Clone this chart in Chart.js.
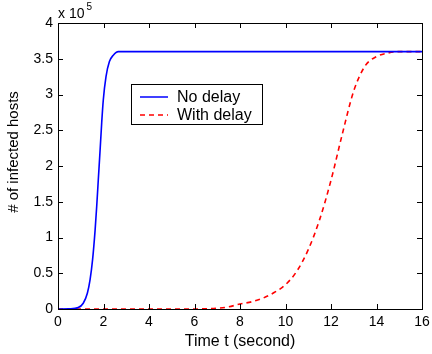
<!DOCTYPE html>
<html>
<head>
<meta charset="utf-8">
<script src="https://cdn.jsdelivr.net/npm/chart.js@4.4.1/dist/chart.umd.min.js"></script>
<style>
  html, body { margin: 0; padding: 0; background: #fff; }
  #wrap { width: 432px; height: 354px; position: relative; }
</style>
</head>
<body>
<div id="wrap"><canvas id="c" width="432" height="354"></canvas></div>
<script>
// ---- data ----
const noDelayTime = [0, 0.5, 0.89, 1.11, 1.29, 1.41, 1.52, 1.63, 1.70, 1.77, 1.85, 1.92, 1.99, 2.11, 2.26, 2.43, 2.65, 3.0, 4, 8, 12, 16];
const noDelayHosts = [0, 300, 2000, 8000, 22000, 41000, 69000, 110000, 143000, 180000, 222000, 260000, 292000, 325000, 346000, 355000, 360000, 360000, 360000, 360000, 360000, 360000];
const withDelayTime = [0, 1, 2, 3, 4, 5, 6, 6.5, 7, 7.5, 8, 8.5, 9, 9.5, 10, 10.5, 11, 11.5, 12, 12.5, 13, 13.5, 14, 14.5, 15, 15.5, 16];
const withDelayHosts = [0, 0, 0, 0, 0, 0, 0, 300, 1000, 3000, 7000, 10000, 15000, 23000, 34000, 53000, 83000, 125000, 180000, 245000, 305000, 340000, 353000, 358000, 360000, 360000, 360000];
const seriesNames = ['No delay', 'With delay'];
const xTitle = 'Time t (second)';
const yTitle = '# of infected hosts';
const xTicks = [0, 2, 4, 6, 8, 10, 12, 14, 16];
const yTicks = [0, 0.5, 1, 1.5, 2, 2.5, 3, 3.5, 4];
const yScaleFactor = 100000;

const FONT = '"Liberation Sans", Arial, Helvetica, sans-serif';

function toPoints(xs, ys) { return xs.map((x, i) => ({ x: x, y: ys[i] })); }

const framePlugin = {
  id: 'frame',
  afterDraw(chart) {
    const ctx = chart.ctx;
    const a = chart.chartArea;
    const xs = chart.scales.x, ys = chart.scales.y;
    ctx.save();
    ctx.strokeStyle = '#000';
    ctx.lineWidth = 1;
    // box
    ctx.strokeRect(Math.round(a.left) + 0.5, Math.round(a.top) + 0.5, Math.round(a.right - a.left), Math.round(a.bottom - a.top));
    // inward ticks
    const tl = 5;
    ctx.beginPath();
    xTicks.forEach(v => {
      const px = Math.round(xs.getPixelForValue(v)) + 0.5;
      ctx.moveTo(px, a.bottom); ctx.lineTo(px, a.bottom - tl);
      ctx.moveTo(px, a.top); ctx.lineTo(px, a.top + tl);
    });
    yTicks.forEach(v => {
      const py = Math.round(ys.getPixelForValue(v * yScaleFactor)) + 0.5;
      ctx.moveTo(a.left, py); ctx.lineTo(a.left + tl, py);
      ctx.moveTo(a.right, py); ctx.lineTo(a.right - tl, py);
    });
    ctx.stroke();

    // exponent label
    ctx.fillStyle = '#000';
    ctx.textBaseline = 'alphabetic';
    ctx.textAlign = 'left';
    ctx.font = '14px ' + FONT;
    ctx.fillText('x 10', a.left, a.top - 5);
    const w = ctx.measureText('x 10').width;
    ctx.font = '10px ' + FONT;
    ctx.fillText('5', a.left + w + 2, a.top - 13);

    // y title
    ctx.font = '15px ' + FONT;
    ctx.textAlign = 'center';
    ctx.textBaseline = 'middle';
    ctx.translate(14, 152);
    ctx.rotate(-Math.PI / 2);
    ctx.fillText(yTitle, 0, 0);
    ctx.restore();

    // legend
    ctx.save();
    const lx = a.left + 73, ly = a.top + 61, lw = 131, lh = 40;
    ctx.fillStyle = '#fff';
    ctx.fillRect(lx, ly, lw, lh);
    ctx.strokeStyle = '#000';
    ctx.lineWidth = 1;
    ctx.strokeRect(lx + 0.5, ly + 0.5, lw, lh);
    const ds = chart.data.datasets;
    const rows = [ly + 13, ly + 31];
    ds.forEach((d, i) => {
      ctx.strokeStyle = d.borderColor;
      ctx.lineWidth = 1.5;
      ctx.setLineDash(d.borderDash || []);
      ctx.beginPath();
      ctx.moveTo(lx + 9, rows[i]);
      ctx.lineTo(lx + 37, rows[i]);
      ctx.stroke();
      ctx.setLineDash([]);
      ctx.fillStyle = '#000';
      ctx.font = '16px ' + FONT;
      ctx.textAlign = 'left';
      ctx.textBaseline = 'middle';
      ctx.fillText(d.label, lx + 46, rows[i] + 1);
    });
    ctx.restore();
  }
};

new Chart(document.getElementById('c'), {
  type: 'scatter',
  data: {
    datasets: [
      {
        label: seriesNames[0],
        data: toPoints(noDelayTime, noDelayHosts),
        showLine: true,
        borderColor: '#0000ff',
        backgroundColor: '#0000ff',
        borderWidth: 1.6,
        pointRadius: 0,
        cubicInterpolationMode: 'monotone',
        fill: false
      },
      {
        label: seriesNames[1],
        data: toPoints(withDelayTime, withDelayHosts),
        showLine: true,
        borderColor: '#ff0000',
        backgroundColor: '#ff0000',
        borderWidth: 1.6,
        borderDash: [5, 4],
        pointRadius: 0,
        cubicInterpolationMode: 'monotone',
        fill: false
      }
    ]
  },
  options: {
    responsive: false,
    animation: false,
    devicePixelRatio: 1,
    layout: { padding: { left: 0, right: 10, top: 23, bottom: 0 } },
    plugins: { legend: { display: false }, tooltip: { enabled: false } },
    scales: {
      x: {
        type: 'linear',
        min: 0, max: 16,
        afterBuildTicks: s => { s.ticks = xTicks.map(v => ({ value: v })); },
        afterFit: s => { s.height = 45; s.paddingLeft = 0; s.paddingRight = 0; },
        grid: { display: false, drawTicks: false },
        border: { display: false },
        ticks: { color: '#000', font: { family: FONT, size: 14 }, padding: 5, maxRotation: 0, autoSkip: false },
        title: { display: true, text: xTitle, color: '#000', font: { family: FONT, size: 16 }, padding: { top: 0, bottom: 3 } }
      },
      y: {
        type: 'linear',
        min: 0, max: 400000,
        afterBuildTicks: s => { s.ticks = yTicks.map(v => ({ value: v * yScaleFactor })); },
        afterFit: s => { s.width = 58; s.paddingTop = 0; s.paddingBottom = 0; },
        grid: { display: false, drawTicks: false },
        border: { display: false },
        ticks: { color: '#000', font: { family: FONT, size: 14 }, padding: 5, autoSkip: false,
          callback: v => String(v / yScaleFactor) }
      }
    }
  },
  plugins: [framePlugin]
});
</script>
</body>
</html>
